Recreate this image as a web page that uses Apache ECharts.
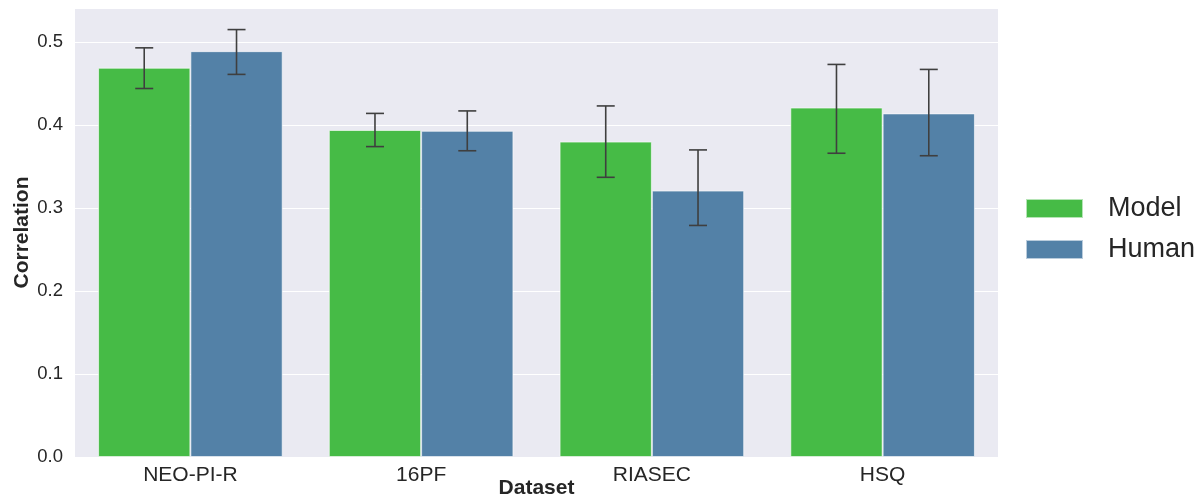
<!DOCTYPE html>
<html>
<head>
    <meta charset="utf-8">
    <title>Correlation by dataset</title>
    <script src="https://cdn.jsdelivr.net/npm/echarts@6/dist/echarts.min.js"></script>
    <style>
        html, body { margin: 0; padding: 0; background: #fff; }
        #chartmain { width: 1204px; height: 499px; }
    </style>
</head>
<body>
    <div id="chartmain"></div>
<script type="text/javascript">
    // data
    var categories = ['NEO-PI-R', '16PF', 'RIASEC', 'HSQ'];
    var modelValues = [0.469, 0.394, 0.380, 0.421];
    var humanValues = [0.489, 0.393, 0.321, 0.414];
    // error bars [low, high]
    var modelErrLow = [0.444, 0.374, 0.337, 0.366];
    var modelErrHigh = [0.493, 0.414, 0.423, 0.473];
    var humanErrLow = [0.461, 0.369, 0.279, 0.363];
    var humanErrHigh = [0.515, 0.417, 0.370, 0.467];
    var yTicks = [0, 0.1, 0.2, 0.3, 0.4, 0.5];

    var font = 'Liberation Sans, Arial, sans-serif';

    function errData(lo, hi, side) {
        return lo.map(function (v, i) { return [i, v, hi[i], side]; });
    }

    function renderErr(params, api) {
        var cat = api.value(0);
        var side = api.value(3);
        var band = api.size([1, 0])[0];
        var pLo = api.coord([cat, api.value(1)]);
        var pHi = api.coord([cat, api.value(2)]);
        var x = pLo[0] + side * band * 0.2;
        var cap = 9;
        var style = { stroke: '#3f3f3f', lineWidth: 1.6 };
        return {
            type: 'group',
            children: [
                { type: 'line', shape: { x1: x, y1: pLo[1], x2: x, y2: pHi[1] }, style: style },
                { type: 'line', shape: { x1: x - cap, y1: pLo[1], x2: x + cap, y2: pLo[1] }, style: style },
                { type: 'line', shape: { x1: x - cap, y1: pHi[1], x2: x + cap, y2: pHi[1] }, style: style }
            ]
        };
    }

    var myChart = echarts.init(document.getElementById('chartmain'));
    myChart.setOption({
        animation: false,
        textStyle: { fontFamily: font },
        grid: {
            left: 75, right: 206, top: 8, bottom: 42,
            outerBoundsMode: 'none', containLabel: false,
            show: true, backgroundColor: '#eaeaf2', borderWidth: 0
        },
        legend: {
            data: ['Model', 'Human'],
            orient: 'vertical',
            left: 1020, top: 190,
            itemWidth: 57, itemHeight: 19, itemGap: 14,
            icon: 'rect',
            textStyle: { fontSize: 27, color: '#262626', padding: [0, 0, 0, 20] }
        },
        xAxis: {
            type: 'category',
            data: categories,
            name: 'Dataset',
            nameLocation: 'middle',
            nameGap: 21,
            nameMoveOverlap: false,
            nameTextStyle: { fontSize: 21, fontWeight: 'bold', color: '#262626' },
            axisLine: { show: false },
            axisTick: { show: false },
            axisLabel: { fontSize: 21, color: '#262626', margin: 8 },
            splitLine: { show: false }
        },
        yAxis: {
            type: 'value',
            min: 0, max: 0.541, interval: 0.1,
            name: 'Correlation',
            nameLocation: 'middle',
            nameGap: 42,
            nameMoveOverlap: false,
            nameTextStyle: { fontSize: 21, fontWeight: 'bold', color: '#262626' },
            axisLine: { show: false },
            axisTick: { show: false },
            axisLabel: {
                fontSize: 18.5, color: '#262626', margin: 12,
                showMaxLabel: false,
                formatter: function (v) {
                    return yTicks.indexOf(Math.round(v * 10) / 10) >= 0 ? v.toFixed(1) : '';
                }
            },
            splitLine: { show: true, lineStyle: { color: '#ffffff', width: 1.2 } }
        },
        series: [
            {
                name: 'Model', type: 'bar', data: modelValues,
                barGap: '0%', barCategoryGap: '20%',
                itemStyle: { color: '#46bb46', borderColor: 'rgba(255,255,255,0.6)', borderWidth: 1 }
            },
            {
                name: 'Human', type: 'bar', data: humanValues,
                barGap: '0%', barCategoryGap: '20%',
                itemStyle: { color: '#5381a7', borderColor: 'rgba(255,255,255,0.6)', borderWidth: 1 }
            },
            {
                type: 'custom', renderItem: renderErr, z: 10,
                encode: { x: 0, y: [1, 2] },
                data: errData(modelErrLow, modelErrHigh, -1)
            },
            {
                type: 'custom', renderItem: renderErr, z: 10,
                encode: { x: 0, y: [1, 2] },
                data: errData(humanErrLow, humanErrHigh, 1)
            }
        ]
    });
</script>
</body>
</html>
